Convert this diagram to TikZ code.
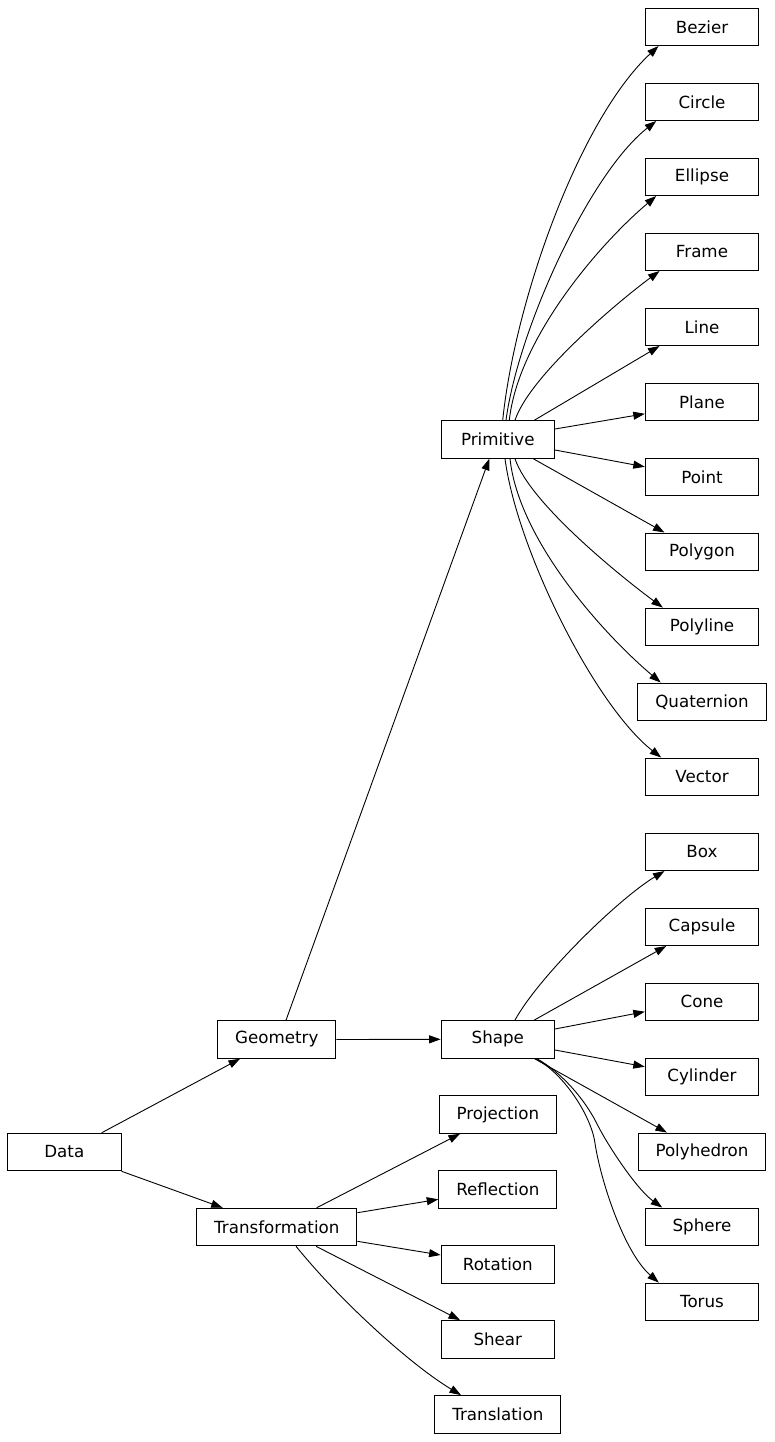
\documentclass[tikz,border=0pt]{standalone}
\usepackage{fontspec}
\setmainfont{DejaVu Sans}
\usetikzlibrary{arrows.meta}
\begin{document}
\begin{tikzpicture}[x=1pt,y=-1pt,
  nd/.style={draw, line width=1pt, rectangle, minimum width=113.4pt, minimum height=37.5pt,
    inner xsep=17.5pt, inner ysep=2pt, font=\fontsize{16.7pt}{20pt}\selectfont},
  edge/.style={line width=0.9pt, -{Triangle[length=11.5pt,width=8pt]}}]
\useasboundingbox (0,0) rectangle (775,1442);
% left and middle
\node[nd] (data) at (64.3,1152) {Data};
\node[nd] (geom) at (276.8,1039.5) {Geometry};
\node[nd] (trans) at (276.8,1227) {Transformation};
\node[nd] (prim) at (497.8,439.5) {Primitive};
\node[nd] (shp) at (497.8,1039.3) {Shape};
\node[nd] (proj) at (497.8,1114.5) {Projection};
\node[nd] (refl) at (497.8,1189.3) {Reflection};
\node[nd] (rot) at (497.8,1264.3) {Rotation};
\node[nd] (shear) at (497.8,1339.3) {Shear};
\node[nd] (transl) at (497.8,1414.3) {Translation};
% right column
\node[nd] (bez) at (702,26.8) {Bezier};
\node[nd] (circ) at (702,101.8) {Circle};
\node[nd] (ell) at (702,176.8) {Ellipse};
\node[nd] (frame) at (702,251.8) {Frame};
\node[nd] (ln) at (702,326.8) {Line};
\node[nd] (plane) at (702,401.8) {Plane};
\node[nd] (point) at (702,476.8) {Point};
\node[nd] (polygon) at (702,551.8) {Polygon};
\node[nd] (polyline) at (702,626.8) {Polyline};
\node[nd] (quat) at (702,701.8) {Quaternion};
\node[nd] (vec) at (702,776.8) {Vector};
\node[nd] (bx) at (702,851.8) {Box};
\node[nd] (caps) at (702,926.8) {Capsule};
\node[nd] (cone) at (702,1001.8) {Cone};
\node[nd] (cyl) at (702,1076.8) {Cylinder};
\node[nd] (polyh) at (702,1151.8) {Polyhedron};
\node[nd] (sph) at (702,1226.8) {Sphere};
\node[nd] (torus) at (702,1301.8) {Torus};
% Data
\draw[edge] ([xshift=37.4pt]data.north) -- ([xshift=-36.8pt]geom.south);
\draw[edge] (data.south east) -- ([xshift=-54.1pt]trans.north);
% Geometry
\draw[edge] ([xshift=9.2pt]geom.north) -- ([xshift=-8.5pt]prim.south);
\draw[edge] (geom.east) -- (shp.west);
% Primitive
\draw[edge] ([xshift=4.9pt]prim.north) .. controls +(12.3,-120) and +(-79,73.3) .. ([xshift=13.7pt]bez.south west);
\draw[edge] ([xshift=8.2pt]prim.north) .. controls +(12,-90.7) and +(-66.7,52.3) .. ([xshift=11.4pt]circ.south west);
\draw[edge] ([xshift=11.5pt]prim.north) .. controls +(8.7,-80.7) and +(-58.7,49.7) .. ([xshift=11.4pt]ell.south west);
\draw[edge] ([xshift=17.2pt]prim.north) .. controls +(15,-45) and +(-40,29.5) .. ([xshift=14.7pt]frame.south west);
\draw[edge] ([xshift=36.5pt]prim.north) -- ([xshift=14.7pt]ln.south west);
\draw[edge] ([yshift=10.5pt]prim.east) -- ([yshift=-12pt]plane.west);
\draw[edge] ([yshift=-10.5pt]prim.east) -- ([yshift=10pt]point.west);
\draw[edge] ([xshift=35.5pt]prim.south) -- ([xshift=19.7pt]polygon.north west);
\draw[edge] ([xshift=17.2pt]prim.south) .. controls +(15,45) and +(-40,-29.5) .. ([xshift=18pt]polyline.north west);
\draw[edge] ([xshift=12.2pt]prim.south) .. controls +(8.7,80.7) and +(-58.7,-49.7) .. ([xshift=23.4pt]quat.north west);
\draw[edge] ([xshift=7.2pt]prim.south) .. controls +(12,90.7) and +(-66.7,-52.3) .. ([xshift=16.4pt]vec.north west);
% Shape
\draw[edge] ([xshift=17.2pt]shp.north) .. controls +(25,-45) and +(-45,27) .. ([xshift=19.7pt]bx.south west);
\draw[edge] ([xshift=36.5pt]shp.north) -- ([xshift=21.4pt]caps.south west);
\draw[edge] ([yshift=10.3pt]shp.east) -- ([yshift=-9.9pt]cone.west);
\draw[edge] ([yshift=-10.7pt]shp.east) -- ([yshift=10.1pt]cyl.west);
\draw[edge] ([xshift=36.5pt]shp.south) -- ([xshift=29.4pt]polyh.north west);
\draw[edge] ([xshift=38.9pt]shp.south) .. controls +(25,14) and +(-12,-24) .. (596.7,1123.3) .. controls +(12,24) and +(-25,-18) .. ([xshift=17.4pt]sph.north west);
\draw[edge] ([xshift=37.2pt]shp.south) .. controls (562,1072) and (589,1112) .. (594.5,1140) .. controls (600,1180) and (624.3,1252.7) .. ([xshift=14pt]torus.north west);
% Transformation
\draw[edge] ([xshift=39.9pt]trans.north) -- ([xshift=-37.8pt]proj.south);
\draw[edge] ([yshift=14.3pt]trans.east) -- ([yshift=-10pt]refl.west);
\draw[edge] ([yshift=-14.3pt]trans.east) -- ([yshift=9.3pt]rot.west);
\draw[edge] ([xshift=39.2pt]trans.south) -- ([xshift=-37.8pt]shear.north);
\draw[edge] ([xshift=19.2pt]trans.south) .. controls +(44,54.3) and +(-51,-30.7) .. ([xshift=-36.8pt]transl.north);
\end{tikzpicture}
\end{document}
